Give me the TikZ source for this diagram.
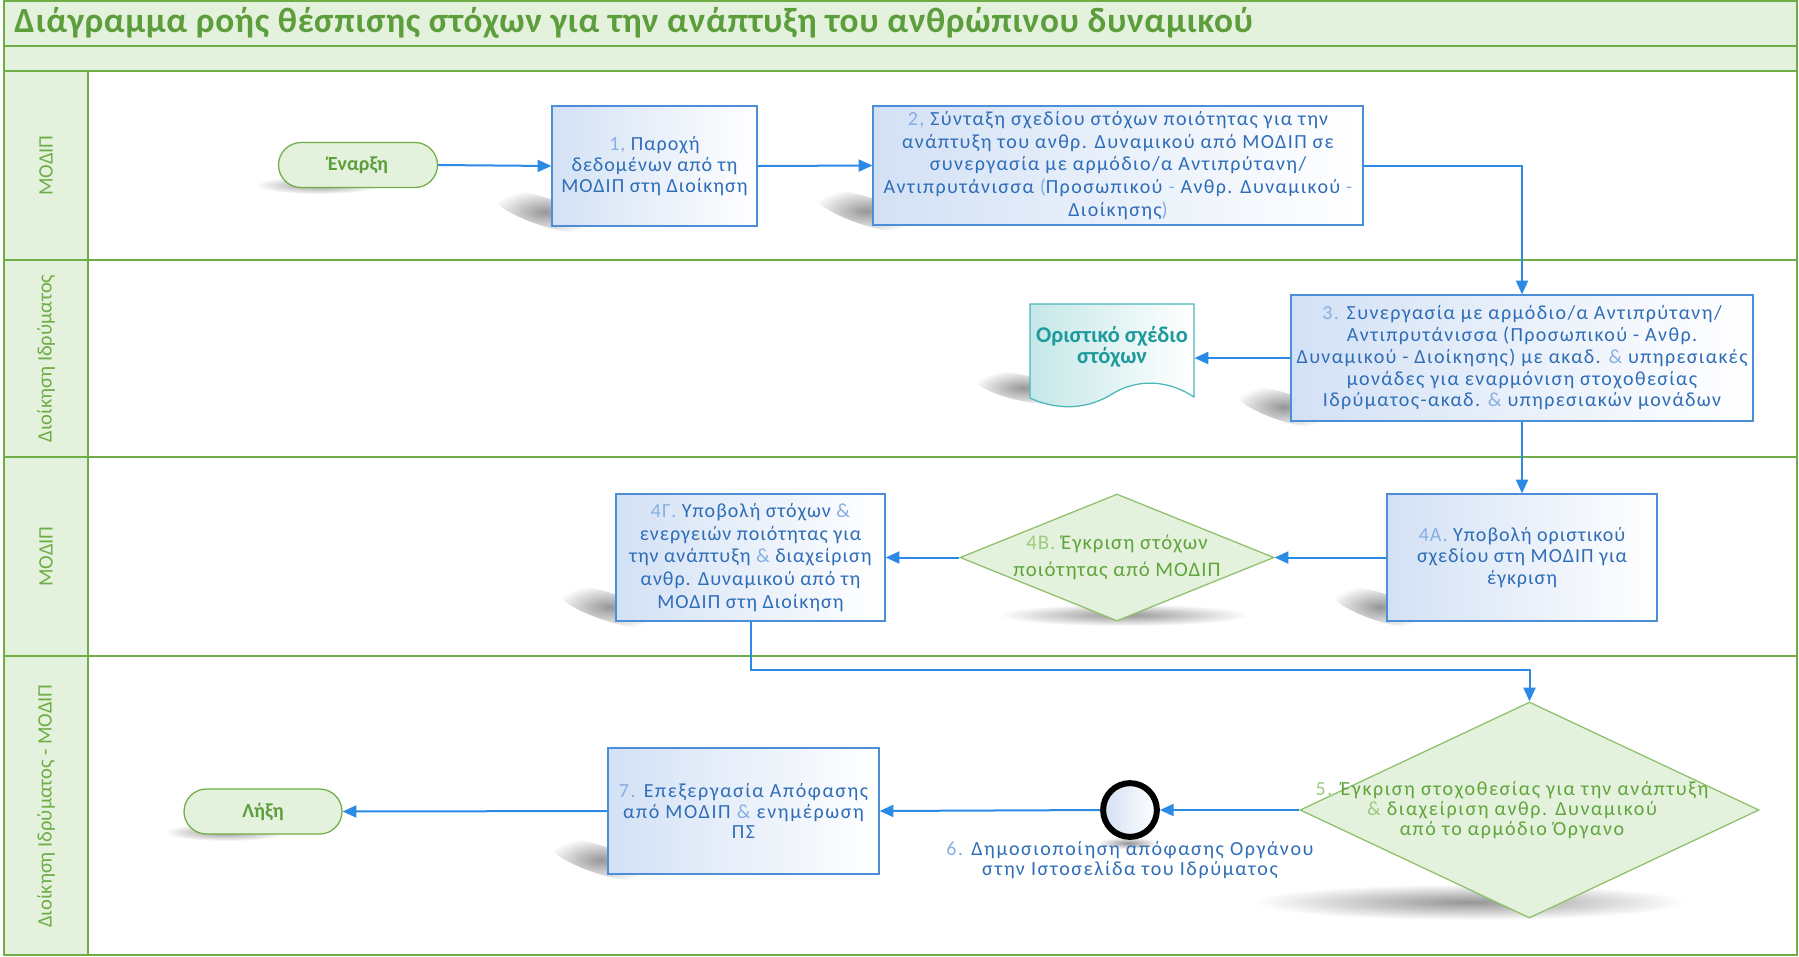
\documentclass[tikz,border=0pt]{standalone}
\usepackage{fontspec}
\setmainfont{Carlito}
\newfontfamily\bodyA[LetterSpace=5]{Carlito}
\newfontfamily\bodyB[LetterSpace=8]{Carlito}
\newfontfamily\bodyC[LetterSpace=7]{Carlito}
\newfontfamily\titlefont[LetterSpace=2]{Carlito}
\usetikzlibrary{arrows.meta,shapes.geometric,fadings,calc}

\definecolor{LaneLine}{HTML}{70AD47}
\definecolor{LaneFill}{HTML}{E4F1DC}
\definecolor{TitleTxt}{HTML}{5C9E3C}
\definecolor{LaneTxt}{HTML}{6EAD46}
\definecolor{BoxLine}{HTML}{4A8FD8}
\definecolor{BoxFill}{HTML}{D3E1F5}
\definecolor{BoxTxt}{HTML}{2E6DB8}
\definecolor{NumTxt}{HTML}{86AEE3}
\definecolor{ArrowCol}{HTML}{2B8AE6}
\definecolor{DiaLine}{HTML}{8CC06A}
\definecolor{DiaFill}{HTML}{E4F1DC}
\definecolor{DiaTxt}{HTML}{5FA53C}
\definecolor{DiaNum}{HTML}{9CCB7E}
\definecolor{DocLine}{HTML}{4DB6B8}
\definecolor{DocFill}{HTML}{C5E7E8}
\definecolor{DocTxt}{HTML}{1E9A9C}
\definecolor{CircFill}{HTML}{D5E0F5}

\newcommand\lighttxt[1]{{\color{NumTxt}#1}}
\newcommand\lightgrn[1]{{\color{DiaNum}#1}}

\tikzfading[name=radfade, inner color=transparent!25, outer color=transparent!100]

\tikzset{
  laneline/.style={draw=LaneLine, line width=0.6pt},
  lanelbl/.style={rotate=90, text=LaneTxt, font=\fontsize{8.2}{9}\selectfont, inner sep=0pt},
  box/.style={draw=BoxLine, line width=0.5pt, left color=BoxFill, right color=white,
    text=BoxTxt, font=\bodyA\fontsize{8}{8.4}\selectfont, align=center, inner sep=1pt},
  term/.style={draw=LaneLine, line width=0.5pt, fill=DiaFill, rounded corners=9pt,
    text=TitleTxt, font=\bfseries\fontsize{8}{9}\selectfont, inner sep=0pt},
  dia/.style={diamond, draw=DiaLine, line width=0.5pt, fill=DiaFill, inner sep=0pt},
  diatext/.style={text=DiaTxt, align=center, inner sep=0pt},
  arr/.style={draw=ArrowCol, line width=0.8pt, -{Triangle[length=5.5pt,width=4.8pt]}},
  roundshadow/.style={fill=black!55, path fading=radfade}
}

\begin{document}
\begin{tikzpicture}[x=0.4pt, y=-0.4pt]
\useasboundingbox (0,0) rectangle (1799,956);

% ---- swimlane frame ----
\fill[LaneFill] (4,1) rectangle (1797,71);
\fill[LaneFill] (4,71) rectangle (88,955);
\draw[laneline] (4,1) rectangle (1797,955);
\draw[laneline] (4,46) -- (1797,46);
\draw[laneline] (4,71) -- (1797,71);
\draw[laneline] (4,260) -- (1797,260);
\draw[laneline] (4,457) -- (1797,457);
\draw[laneline] (4,656) -- (1797,656);
\draw[laneline] (88,71) -- (88,955);

\node[anchor=west, text=TitleTxt, font=\titlefont\bfseries\fontsize{14.1}{16}\selectfont, inner sep=0pt] (title) at (14,23)
  {Διάγραμμα ροής θέσπισης στόχων για την ανάπτυξη του ανθρώπινου δυναμικού};

\node[lanelbl] (lane1) at (46,165.5) {ΜΟΔΙΠ};
\node[lanelbl] (lane2) at (46,358.5) {Διοίκηση Ιδρύματος};
\node[lanelbl] (lane3) at (46,556.5) {ΜΟΔΙΠ};
\node[lanelbl] (lane4) at (46,806) {Διοίκηση Ιδρύματος - ΜΟΔΙΠ};

% ---- shadows ----
\fill[roundshadow, rotate around={-18:(545,212)}] (545,212) ellipse [x radius=55, y radius=14];
\fill[roundshadow, rotate around={-18:(866,211)}] (866,211) ellipse [x radius=55, y radius=14];
\fill[roundshadow, rotate around={-18:(1284,407)}] (1284,407) ellipse [x radius=52, y radius=14];
\fill[roundshadow, rotate around={-18:(1380,607)}] (1380,607) ellipse [x radius=52, y radius=14];
\fill[roundshadow, rotate around={-18:(609,607)}] (609,607) ellipse [x radius=55, y radius=14];
\fill[roundshadow, rotate around={-18:(601,860)}] (601,860) ellipse [x radius=55, y radius=14];
\fill[roundshadow, rotate around={-12:(1023,388)}] (1023,388) ellipse [x radius=50, y radius=13];
\fill[roundshadow] (1124,615) ellipse [x radius=125, y radius=11];
\fill[roundshadow] (1470,902) ellipse [x radius=215, y radius=18];
\fill[roundshadow] (318,185) ellipse [x radius=62, y radius=9];
\fill[roundshadow] (226,832) ellipse [x radius=62, y radius=9];
\fill[roundshadow] (1128,843) ellipse [x radius=30, y radius=6];

% ---- lane 1 ----
\node[term, minimum width=63.6pt, minimum height=18pt] (start) at (358,165) {Έναρξη};
\node[box, minimum width=82pt, minimum height=48pt, font=\bodyA\fontsize{8}{8.3}\selectfont] (b1) at (654.5,166)
  {\lighttxt{1,} Παροχή\\δεδομένων από τη\\ΜΟΔΙΠ στη Διοίκηση};
\node[box, minimum width=196pt, minimum height=47.6pt, font=\bodyC\fontsize{8}{9.1}\selectfont] (b2) at (1118,165.5)
  {\lighttxt{2,} Σύνταξη σχεδίου στόχων ποιότητας για την\\
   ανάπτυξη του ανθρ. Δυναμικού από ΜΟΔΙΠ σε\\
   συνεργασία με αρμόδιο/α Αντιπρύτανη/\\
   Αντιπρυτάνισσα \lighttxt{(}Προσωπικού \lighttxt{-} Ανθρ. Δυναμικού \lighttxt{-}\\
   Διοίκησης\lighttxt{)}};

% ---- lane 2 ----
\node[box, minimum width=184.8pt, minimum height=50.4pt, font=\bodyC\fontsize{8}{8.7}\selectfont] (b3) at (1522,358)
  {\lighttxt{3.} Συνεργασία με αρμόδιο/α Αντιπρύτανη/\\
   Αντιπρυτάνισσα (Προσωπικού - Ανθρ.\\
   Δυναμικού - Διοίκησης) με ακαδ. \lighttxt{\&} υπηρεσιακές\\
   μονάδες για εναρμόνιση στοχοθεσίας\\
   Ιδρύματος-ακαδ. \lighttxt{\&} υπηρεσιακών μονάδων};
\path[draw=DocLine, line width=0.5pt, left color=DocFill, right color=white]
  (1030,304) -- (1194,304) -- (1194,397)
  .. controls (1165,378) and (1135,380) .. (1112,394)
  .. controls (1090,408) and (1060,412) .. (1030,398) -- cycle;
\node[inner sep=0pt, minimum width=65.6pt, minimum height=37pt] (doc) at (1112,350) {};
\node[text=DocTxt, font=\bfseries\fontsize{9}{8.6}\selectfont, align=center, inner sep=0pt] (doctxt) at (1112,347)
  {Οριστικό σχέδιο\\στόχων};

% ---- lane 3 ----
\node[box, minimum width=108pt, minimum height=50.8pt, font=\bodyA\fontsize{8}{8.5}\selectfont] (b4a) at (1522,557.5)
  {\lighttxt{4Α.} Υποβολή οριστικού\\σχεδίου στη ΜΟΔΙΠ για\\έγκριση};
\node[dia, minimum width=125.6pt, minimum height=50.8pt] (d4b) at (1117,557.5) {};
\node[diatext, font=\bodyA\fontsize{8.3}{10.8}\selectfont] (d4btxt) at (d4b.center) {\lightgrn{4Β.} Έγκριση στόχων\\ποιότητας από ΜΟΔΙΠ};
\node[box, minimum width=107.6pt, minimum height=50.8pt, font=\bodyA\fontsize{8}{9.1}\selectfont] (b4g) at (750.5,557.5)
  {\lighttxt{4Γ.} Υποβολή στόχων \lighttxt{\&}\\ενεργειών ποιότητας για\\την ανάπτυξη \lighttxt{\&} διαχείριση\\ανθρ. Δυναμικού από τη\\ΜΟΔΙΠ στη Διοίκηση};

% ---- lane 4 ----
\node[dia, minimum width=183.6pt, minimum height=86.4pt] (d5) at (1529.5,810) {};
\node[diatext, font=\bodyB\fontsize{8}{7.9}\selectfont] (d5txt) at ([xshift=-7pt]d5.center)
  {\lightgrn{5.} Έγκριση στοχοθεσίας για την ανάπτυξη\\\lightgrn{\&} διαχείριση ανθρ. Δυναμικού\\από το αρμόδιο Όργανο};
\node[circle, draw=black, line width=2.4pt, left color=CircFill, right color=white, minimum size=21.5pt, inner sep=0pt] (c6) at (1130,810) {};
\node[text=BoxTxt, font=\bodyB\fontsize{8}{8.3}\selectfont, align=center, inner sep=0pt] (c6txt) at (1130,860)
  {\lighttxt{6.} Δημοσιοποίηση απόφασης Οργάνου\\στην Ιστοσελίδα του Ιδρύματος};
\node[box, minimum width=108.4pt, minimum height=50.4pt, font=\bodyB\fontsize{8}{8.3}\selectfont] (b7) at (743.5,811)
  {\lighttxt{7.} Επεξεργασία Απόφασης\\από ΜΟΔΙΠ \lighttxt{\&} ενημέρωση\\ΠΣ};
\node[term, minimum width=63.2pt, minimum height=18pt] (end) at (263,811.5) {Λήξη};

% ---- connectors ----
\draw[arr] (start.east) -- (b1.west);
\draw[arr] (b1.east) -- (b2.west);
\draw[arr] (b2.east) -| (b3.north);
\draw[arr] (b3.west) -- (b3.west -| doc.east);
\draw[arr] (b3.south) -- (b4a.north);
\draw[arr] (b4a.west) -- (d4b.east);
\draw[arr] (d4b.west) -- (b4g.east);
\draw[arr] (b4g.south) -- ++(0,48) -| (d5.north);
\draw[arr] (d5.west) -- (c6.east);
\draw[arr] (c6.west) -- (b7.east);
\draw[arr] (b7.west) -- (end.east);
\end{tikzpicture}
\end{document}
